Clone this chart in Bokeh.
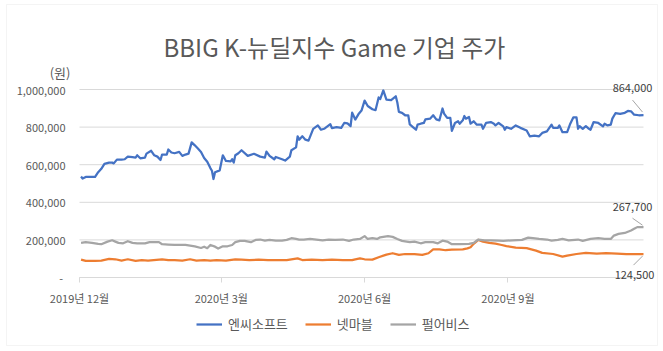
import pandas as pd
from bokeh.plotting import figure
from bokeh.models import (Range1d, FixedTicker, CustomJSTickFormatter, Label,
                          Legend, LegendItem, BoxAnnotation)
from bokeh.embed import file_html
from bokeh.resources import INLINE

# ---------------- data ----------------
TITLE = "BBIG K-뉴딜지수 Game 기업 주가"
UNIT_LABEL = "(원)"
SERIES = ["엔씨소프트", "넷마블", "펄어비스"]
COLORS = ["#4472C4", "#ED7D31", "#A5A5A5"]
BASE_DATE = "2019-12-01"          # day 0
END_DAY = 362                     # 2020-11-27
Y_TICKS = [0, 200000, 400000, 600000, 800000, 1000000]
X_TICK_DATES = ["2019-12-01", "2020-03-01", "2020-06-01", "2020-09-01"]

# 엔씨소프트 (days since BASE_DATE, price in thousand won)
nc_day = [1, 2, 4, 7, 10, 12, 14, 16, 19, 21, 22, 24, 27, 29, 31, 34, 36, 37, 39, 42,
          43, 46, 48, 50, 52, 53, 56, 57, 59, 61, 64, 66, 68, 70, 72, 74, 76, 78, 80, 82,
          84, 85, 86, 87, 90, 92, 94, 97, 98, 99, 100, 102, 104, 108, 112, 116, 119, 120, 122, 125,
          126, 130, 132, 135, 136, 139, 140, 141, 143, 145, 147, 150, 153, 155, 157, 161, 162, 165, 168, 170,
          172, 174, 175, 177, 179, 181, 183, 185, 188, 190, 192, 193, 195, 197, 200, 203, 204, 205, 207, 209,
          211, 212, 214, 216, 217, 219, 221, 222, 225, 227, 229, 231, 233, 234, 236, 238, 239, 241, 243, 244,
          246, 247, 248, 250, 251, 253, 255, 258, 259, 261, 264, 266, 267, 269, 272, 273, 274, 277, 280, 283,
          287, 289, 292, 295, 297, 300, 303, 304, 307, 308, 310, 313, 315, 317, 319, 320, 321, 323, 325, 327,
          328, 330, 333, 336, 337, 339, 341, 342, 344, 347, 350, 352, 354, 356, 359, 362]
nc_price = [537, 526, 535, 535, 535, 560, 578, 604, 611, 611, 607, 627, 627, 629, 643, 640, 638, 650, 634, 638,
            659, 674, 650, 643, 625, 654, 654, 681, 665, 661, 668, 647, 654, 659, 719, 703, 686, 668, 636, 616,
            582, 568, 524, 560, 570, 650, 620, 618, 629, 611, 650, 661, 677, 647, 658, 643, 638, 670, 647, 629,
            641, 629, 622, 643, 677, 692, 751, 733, 751, 733, 728, 791, 809, 786, 791, 816, 795, 800, 796, 823,
            820, 805, 877, 840, 868, 888, 941, 912, 895, 890, 958, 949, 995, 946, 944, 964, 931, 881, 876, 863,
            863, 814, 800, 786, 813, 818, 822, 841, 845, 863, 841, 836, 899, 872, 849, 849, 780, 822, 831, 818,
            836, 859, 845, 854, 818, 831, 813, 813, 791, 823, 827, 818, 809, 822, 804, 786, 800, 791, 809, 796,
            782, 751, 755, 751, 769, 777, 813, 796, 796, 809, 773, 773, 818, 852, 852, 791, 805, 791, 805, 791,
            786, 827, 822, 804, 818, 809, 813, 845, 874, 870, 876, 886, 884, 866, 863, 864]

# 넷마블
nm_day = [1, 4, 10, 14, 19, 23, 27, 31, 36, 40, 44, 53, 57, 61, 66, 71, 75, 80, 84, 88,
          94, 100, 104, 109, 115, 121, 128, 133, 140, 143, 149, 156, 162, 169, 175, 177, 180, 183, 188, 192,
          197, 201, 205, 209, 215, 220, 224, 227, 231, 235, 239, 246, 249, 251, 253, 256, 259, 263, 267, 271,
          274, 280, 287, 293, 297, 304, 310, 313, 319, 325, 332, 338, 345, 351, 357, 362]
nm_price = [95, 88, 88, 90, 99, 97, 90, 97, 88, 92, 90, 97, 92, 92, 90, 97, 90, 93, 90, 93,
            90, 97, 95, 92, 95, 92, 93, 93, 102, 93, 95, 92, 95, 93, 92, 96, 102, 97, 95, 108,
            122, 129, 120, 125, 124, 120, 129, 150, 150, 145, 148, 150, 155, 161, 179, 200, 191, 184, 180, 173,
            167, 159, 156, 143, 131, 125, 111, 116, 125, 131, 127, 129, 127, 124, 125, 124.5]

# 펄어비스
pa_day = [1, 4, 8, 12, 14, 18, 21, 23, 25, 28, 31, 34, 37, 42, 45, 51, 53, 57, 61, 68,
          71, 74, 78, 80, 82, 84, 87, 89, 92, 95, 98, 100, 103, 106, 110, 113, 116, 119, 122, 126,
          130, 133, 136, 139, 141, 144, 148, 152, 156, 160, 164, 169, 173, 176, 180, 183, 185, 188, 191, 193,
          198, 201, 204, 207, 212, 215, 219, 222, 227, 230, 233, 236, 239, 244, 250, 253, 256, 260, 264, 269,
          272, 278, 284, 288, 291, 295, 300, 303, 307, 310, 314, 320, 323, 328, 333, 337, 341, 343, 346, 350,
          354, 356, 358, 362]
pa_price = [184, 188, 184, 179, 177, 191, 198, 191, 184, 182, 193, 184, 182, 182, 188, 188, 177, 175, 173, 173,
            170, 166, 157, 164, 156, 173, 164, 154, 166, 166, 173, 188, 195, 195, 188, 200, 202, 196, 200, 196,
            196, 200, 209, 205, 202, 202, 205, 202, 198, 202, 200, 202, 195, 202, 205, 220, 205, 209, 205, 214,
            220, 216, 205, 195, 188, 191, 182, 188, 188, 182, 196, 191, 177, 177, 179, 184, 202, 198, 198, 196,
            195, 198, 200, 212, 209, 205, 202, 196, 200, 205, 198, 202, 195, 205, 209, 205, 205, 223, 232, 237,
            250, 259, 268, 267.7]

# ---------------- layout ----------------
W, H = 663, 351
PL, PR, PT, PB = 79, 643, 89, 277   # chart plot-area box (pixels)
FONT = "Noto Sans CJK KR"
TXT = "#595959"

base = pd.Timestamp(BASE_DATE)


def to_dt(days):
    return base + pd.to_timedelta(days, unit="D")


def ms(ts):
    return ts.value / 1e6


x0, x1 = ms(base), ms(base + pd.Timedelta(days=END_DAY))
mspp = (x1 - x0) / (PR - PL)
vpp = Y_TICKS[-1] / (PB - PT)


def px_x(px):
    return x0 + (px - PL) * mspp


def px_y(py):
    return (PB - py) * vpp


# the frame fills the whole canvas; both axes are pinned inside it
p = figure(width=W, height=H, output_backend="svg", toolbar_location=None,
           x_axis_type="datetime",
           x_range=Range1d(px_x(0), px_x(W)), y_range=Range1d(px_y(H), px_y(0)),
           min_border=0)
p.outline_line_color = None
p.background_fill_color = "white"
p.border_fill_color = "white"
p.grid.visible = False

# outer chart border
p.add_layout(BoxAnnotation(left=px_x(6), right=px_x(657), top=px_y(4), bottom=px_y(345),
                           fill_alpha=0, line_color="#d9d9d9", line_width=1))

# horizontal gridlines across the plot area only
p.multi_line(xs=[[x0, x1] for _ in Y_TICKS], ys=[[t, t] for t in Y_TICKS],
             line_color="#d9d9d9", line_width=1)

# y axis
p.yaxis.fixed_location = x0
p.yaxis.ticker = FixedTicker(ticks=Y_TICKS)
p.yaxis.formatter = CustomJSTickFormatter(
    code="return tick == 0 ? '-\u00a0' : tick.toLocaleString('en-US');")
p.yaxis.axis_line_color = None
p.yaxis.major_tick_line_color = None
p.yaxis.major_tick_out = 0
p.yaxis.major_tick_in = 0
p.yaxis.minor_tick_line_color = None
p.yaxis.major_label_standoff = 14
p.yaxis.major_label_text_font = FONT
p.yaxis.major_label_text_font_size = "11px"
p.yaxis.major_label_text_color = TXT

# x axis
p.xaxis.fixed_location = 0
p.xaxis.ticker = FixedTicker(ticks=[ms(pd.Timestamp(d)) for d in X_TICK_DATES])
p.xaxis.formatter = CustomJSTickFormatter(
    code="const d = new Date(tick); return d.getUTCFullYear() + '년 ' + (d.getUTCMonth() + 1) + '월';")
p.xaxis.bounds = (x0, x1)
p.xaxis.axis_line_color = "#d9d9d9"
p.xaxis.major_tick_line_color = "#d9d9d9"
p.xaxis.major_tick_out = 5
p.xaxis.major_tick_in = 0
p.xaxis.minor_tick_line_color = None
p.xaxis.major_label_standoff = 7
p.xaxis.major_label_text_font = FONT
p.xaxis.major_label_text_font_size = "11px"
p.xaxis.major_label_text_color = TXT

# series
renderers = []
all_days = [nc_day, nm_day, pa_day]
all_vals = [nc_price, nm_price, pa_price]
for days, vals, col in zip(all_days, all_vals, COLORS):
    r = p.line(to_dt(days), [v * 1000 for v in vals], line_color=col, line_width=2.25,
               line_join="round")
    renderers.append(r)

# end-value labels with leader lines (px offsets from last point; +y = down)
label_off = [(-11, -27), (-9, 20.5), (-11, -20)]
leader = [((-1, -3), (-11, -15)), ((-1, 2), (-10, 11)), ((-1, -2), (-11, -9))]
for days, vals, lo, ld in zip(all_days, all_vals, label_off, leader):
    lx = ms(to_dt(days[-1]))
    ly = vals[-1] * 1000
    (a0, b0), (a1, b1) = ld
    p.segment(x0=[lx + a0 * mspp], y0=[ly - b0 * vpp], x1=[lx + a1 * mspp], y1=[ly - b1 * vpp],
              line_color="#a6a6a6", line_width=1)
    p.add_layout(Label(x=lx + lo[0] * mspp, y=ly - lo[1] * vpp, text=f"{int(round(ly)):,}",
                       text_align="center", text_baseline="middle", text_font=FONT,
                       text_font_size="11px", text_color="#404040"))

# title and unit
p.add_layout(Label(x=px_x(334), y=px_y(46), text=TITLE, text_align="center",
                   text_baseline="middle", text_font=FONT, text_font_size="24px",
                   text_color=TXT))
p.add_layout(Label(x=px_x(59.5), y=px_y(72), text=UNIT_LABEL, text_align="center",
                   text_baseline="middle", text_font=FONT, text_font_size="13px",
                   text_color=TXT))

# legend under the axis
legend = Legend(items=[LegendItem(label=s, renderers=[r]) for s, r in zip(SERIES, renderers)],
                orientation="horizontal", location=(196, H - 333),
                label_text_font=FONT, label_text_font_size="13px", label_text_color=TXT,
                glyph_width=26, glyph_height=14, label_height=14, label_standoff=6,
                spacing=17, padding=0, margin=0, border_line_color=None,
                background_fill_alpha=0)
p.add_layout(legend)

open("out.html", "w").write(file_html(p, INLINE))
